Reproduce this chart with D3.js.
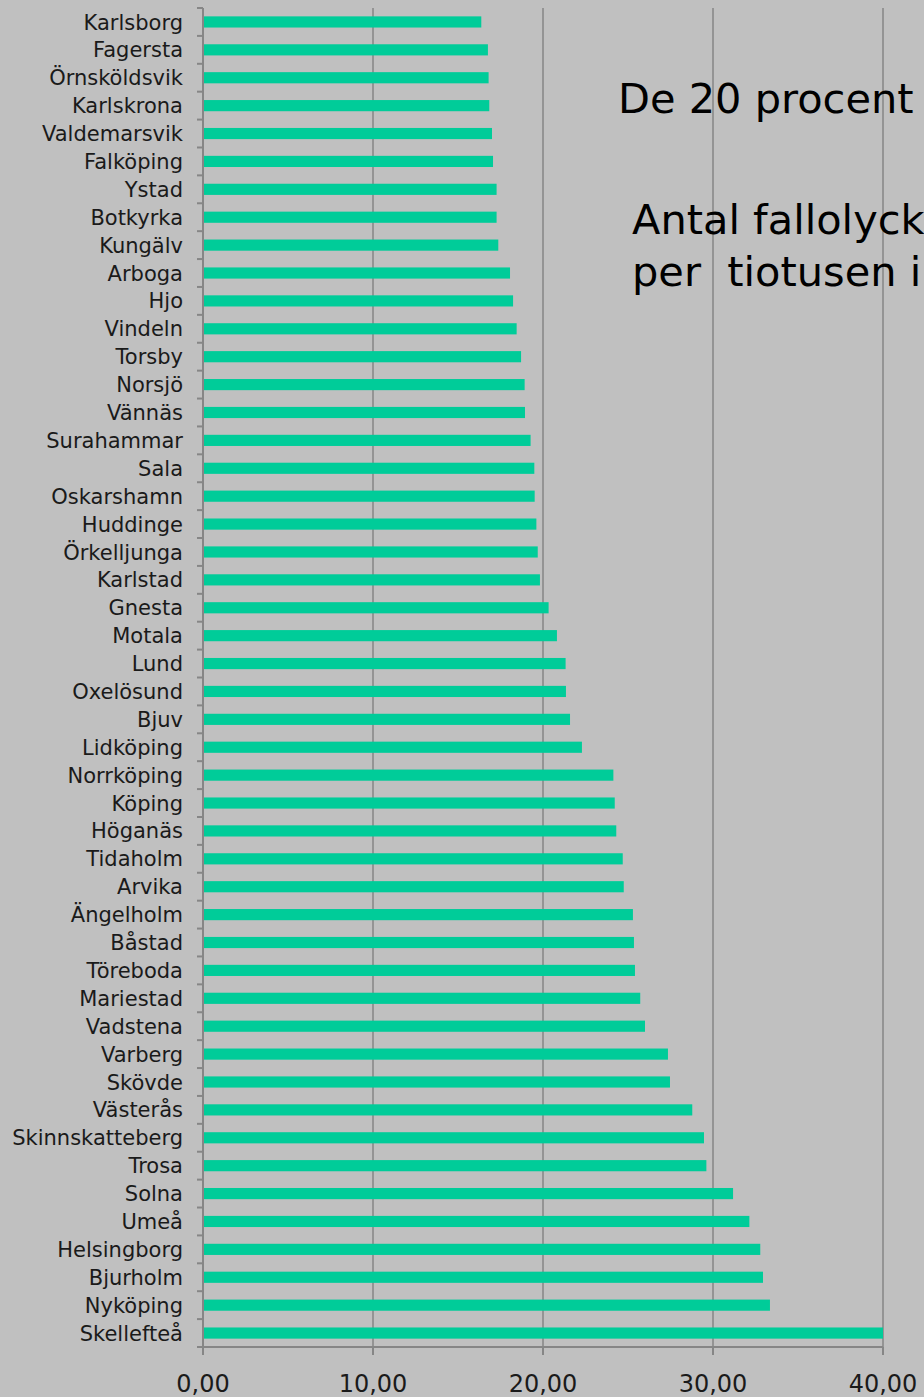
<!DOCTYPE html>
<html>
<head>
<meta charset="utf-8">
<script src="https://cdn.jsdelivr.net/npm/d3@7"></script>
<style>
  body { margin: 0; background: #c0c0c0; }
  svg { display: block; }
</style>
</head>
<body>
<div id="myViz"></div>
<script>
const width = 924
const height = 1397

// kommuner, uppifrån och ned
const kommuner = ["Karlsborg", "Fagersta", "Örnsköldsvik", "Karlskrona", "Valdemarsvik", "Falköping",
  "Ystad", "Botkyrka", "Kungälv", "Arboga", "Hjo", "Vindeln", "Torsby", "Norsjö", "Vännäs",
  "Surahammar", "Sala", "Oskarshamn", "Huddinge", "Örkelljunga", "Karlstad", "Gnesta", "Motala",
  "Lund", "Oxelösund", "Bjuv", "Lidköping", "Norrköping", "Köping", "Höganäs", "Tidaholm", "Arvika",
  "Ängelholm", "Båstad", "Töreboda", "Mariestad", "Vadstena", "Varberg", "Skövde", "Västerås",
  "Skinnskatteberg", "Trosa", "Solna", "Umeå", "Helsingborg", "Bjurholm", "Nyköping", "Skellefteå"]

const antal = [16.37, 16.76, 16.80, 16.84, 17.00, 17.06, 17.27, 17.27, 17.37, 18.06, 18.24, 18.45,
  18.71, 18.92, 18.94, 19.27, 19.49, 19.51, 19.61, 19.69, 19.82, 20.33, 20.82, 21.33, 21.35, 21.59,
  22.29, 24.14, 24.22, 24.31, 24.69, 24.75, 25.29, 25.35, 25.41, 25.72, 26.00, 27.35, 27.47, 28.78,
  29.47, 29.61, 31.18, 32.14, 32.78, 32.94, 33.35, 40.00]

const xTicks = [0, 10, 20, 30, 40]

const rubrik = ["De 20 procent", "Antal fallolyck", "per  tiotusen i"]

const svg = d3.select("#myViz")
  .append("svg")
    .attr("width", width)
    .attr("height", height)

svg.append("rect")
  .attr("width", width)
  .attr("height", height)
  .attr("fill", "#c0c0c0")

const x = d3.scaleLinear()
  .domain([0, 40])
  .range([203, 883])

const y = d3.scaleBand()
  .domain(kommuner)
  .range([8, 1347])
  .paddingInner(0.6)
  .paddingOuter(0.3)

const sv = d3.formatLocale({ decimal: ",", thousands: " ", grouping: [3], currency: ["", " kr"] })
const fmt = sv.format(".2f")

// stödlinjer
svg.selectAll(".grid")
  .data(xTicks.filter(d => d > 0))
  .enter()
  .append("line")
    .attr("x1", d => x(d))
    .attr("x2", d => x(d))
    .attr("y1", y.range()[0])
    .attr("y2", y.range()[1])
    .attr("stroke", "#868686")
    .attr("stroke-width", 1.5)

// staplar
svg.selectAll(".bar")
  .data(kommuner)
  .enter()
  .append("rect")
    .attr("x", x(0))
    .attr("y", d => y(d))
    .attr("width", (d, i) => x(antal[i]) - x(0))
    .attr("height", y.bandwidth())
    .attr("fill", "#00cc99")

// y-axel
const step = y.step()
svg.append("line")
  .attr("x1", x(0)).attr("x2", x(0))
  .attr("y1", y.range()[0]).attr("y2", y.range()[1])
  .attr("stroke", "#868686")
  .attr("stroke-width", 2)

svg.selectAll(".ytick")
  .data(d3.range(kommuner.length + 1))
  .enter()
  .append("line")
    .attr("x1", x(0) - 6).attr("x2", x(0))
    .attr("y1", i => y.range()[0] + i * step)
    .attr("y2", i => y.range()[0] + i * step)
    .attr("stroke", "#868686")
    .attr("stroke-width", 2)

svg.selectAll(".ylabel")
  .data(kommuner)
  .enter()
  .append("text")
    .attr("x", 183)
    .attr("y", d => y(d) + y.bandwidth() / 2)
    .attr("dy", "0.36em")
    .attr("text-anchor", "end")
    .style("font-family", "'DejaVu Sans', Verdana, sans-serif")
    .style("font-size", "21px")
    .attr("fill", "#1a1a1a")
    .text(d => d)

// x-axel
const axisY = y.range()[1]
svg.append("line")
  .attr("x1", x(0)).attr("x2", x(40))
  .attr("y1", axisY).attr("y2", axisY)
  .attr("stroke", "#868686")
  .attr("stroke-width", 2)

svg.selectAll(".xtick")
  .data(xTicks)
  .enter()
  .append("line")
    .attr("x1", d => x(d)).attr("x2", d => x(d))
    .attr("y1", axisY).attr("y2", axisY + 8)
    .attr("stroke", "#868686")
    .attr("stroke-width", 2)

svg.selectAll(".xlabel")
  .data(xTicks)
  .enter()
  .append("text")
    .attr("x", d => x(d))
    .attr("y", 1392)
    .attr("text-anchor", "middle")
    .style("font-family", "'DejaVu Sans', Verdana, sans-serif")
    .style("font-size", "24px")
    .attr("fill", "#1a1a1a")
    .text(d => fmt(d))

// rubrik (beskuren av bildkanten)
const rubrikPos = [[618, 113], [632, 234], [632, 286]]
svg.selectAll(".rubrik")
  .data(rubrik)
  .enter()
  .append("text")
    .attr("x", (d, i) => rubrikPos[i][0])
    .attr("y", (d, i) => rubrikPos[i][1])
    .attr("xml:space", "preserve")
    .style("white-space", "pre")
    .style("font-family", "'DejaVu Sans', Verdana, sans-serif")
    .style("font-size", "41.5px")
    .attr("fill", "#000")
    .text(d => d)
</script>
</body>
</html>
